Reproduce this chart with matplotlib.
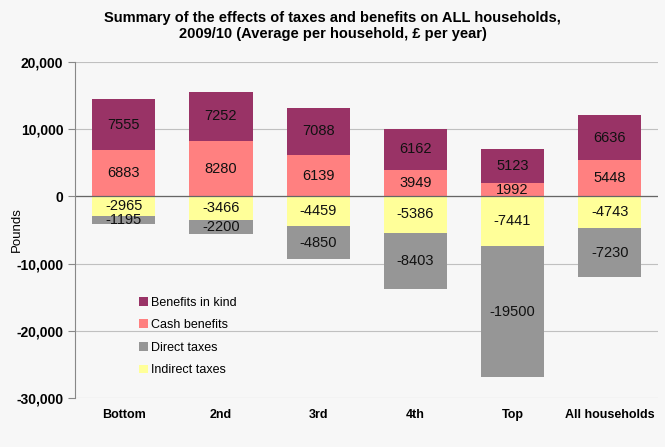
import matplotlib
matplotlib.use("Agg")
import matplotlib.pyplot as plt
import numpy as np

categories = ["Bottom", "2nd", "3rd", "4th", "Top", "All households"]
benefits_in_kind = [7555, 7252, 7088, 6162, 5123, 6636]
cash_benefits = [6883, 8280, 6139, 3949, 1992, 5448]
indirect_taxes = [-2965, -3466, -4459, -5386, -7441, -4743]
direct_taxes = [-1195, -2200, -4850, -8403, -19500, -7230]

plt.rcParams['font.family'] = ['Liberation Sans', 'DejaVu Sans']

c_bik = "#993366"
c_cash = "#ff8080"
c_dir = "#969696"
c_ind = "#ffff99"
bg = "#f7f7f7"

fig = plt.figure(figsize=(6.65, 4.47), dpi=100, facecolor=bg)
ax = fig.add_axes([0.113, 0.110, 0.877, 0.751], facecolor=bg)

x = np.arange(len(categories))
w = 0.65
ax.set_axisbelow(True)
ax.yaxis.grid(True, color="#c0c0c0", linewidth=0.8)

b1 = ax.bar(x, cash_benefits, w, color=c_cash, label="Cash benefits")
b2 = ax.bar(x, benefits_in_kind, w, bottom=cash_benefits, color=c_bik, label="Benefits in kind")
b3 = ax.bar(x, indirect_taxes, w, color=c_ind, label="Indirect taxes")
b4 = ax.bar(x, direct_taxes, w, bottom=indirect_taxes, color=c_dir, label="Direct taxes")

for bars in (b1, b2, b3, b4):
    ax.bar_label(bars, labels=[f"{int(round(v))}" for v in bars.datavalues],
                 label_type="center", fontsize=10.5, color="#111111")

ax.axhline(0, color="#666666", linewidth=0.9, zorder=1)

ax.set_ylim(-30000, 20000)
ax.set_yticks(np.arange(-30000, 20001, 10000))
ax.yaxis.set_major_formatter(matplotlib.ticker.FuncFormatter(lambda v, p: f"{int(v):,}"))
ax.set_xlim(-0.5, len(categories) - 0.5)
ax.set_xticks(x)
ax.set_xticklabels(categories, fontweight="bold", fontsize=9)
for lab in ax.get_yticklabels():
    lab.set_fontweight("bold")
    lab.set_fontsize(10)
ax.tick_params(axis="x", length=0, pad=8)
ax.tick_params(axis="y", length=5, color="#888888", direction="out")
ax.set_ylabel("Pounds", fontsize=9.5)
ax.yaxis.set_label_coords(-0.09, 0.5)

for s in ("top", "right", "bottom"):
    ax.spines[s].set_visible(False)
ax.spines["left"].set_color("#888888")

handles = [b2, b1, b4, b3]
leg = ax.legend(handles, [h.get_label() for h in handles], loc="upper left",
                bbox_to_anchor=(0.09, 0.335), frameon=False, fontsize=9,
                handlelength=0.7, handleheight=0.7, handletextpad=0.3,
                labelspacing=0.85)

fig.suptitle("Summary of the effects of taxes and benefits on ALL households,\n2009/10 (Average per household, £ per year)",
             fontsize=10.5, fontweight="bold", y=0.975)

fig.savefig("out.png", dpi=100, facecolor=bg)
